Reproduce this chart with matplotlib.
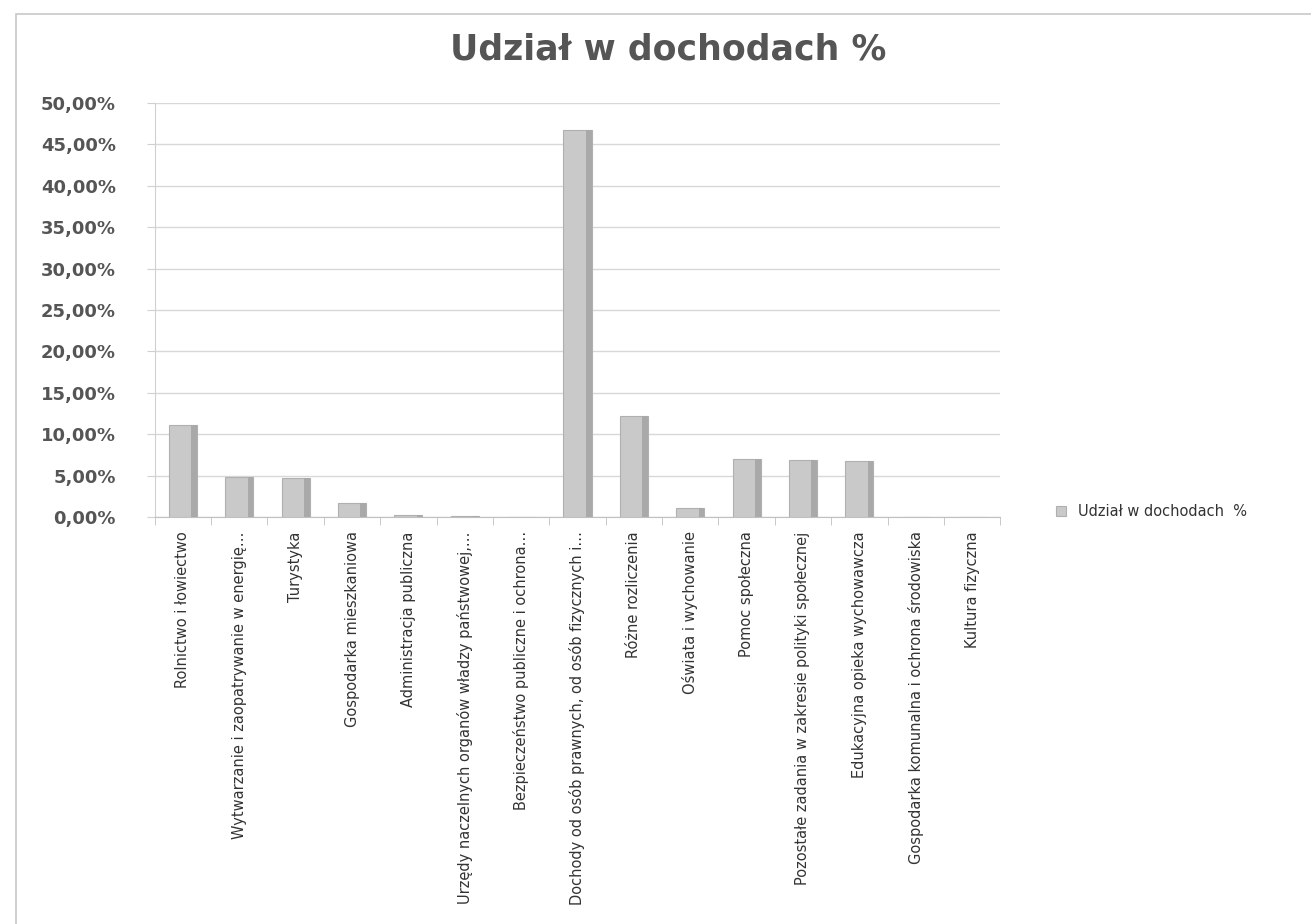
import matplotlib
matplotlib.use('Agg')
import matplotlib.pyplot as plt
from matplotlib.patches import Rectangle
from matplotlib.ticker import FuncFormatter
import numpy as np

# Categories and values (share of income, %)
categories = [
    'Rolnictwo i łowiectwo',
    'Wytwarzanie i zaopatrywanie w energię…',
    'Turystyka',
    'Gospodarka mieszkaniowa',
    'Administracja publiczna',
    'Urzędy naczelnych organów władzy państwowej,…',
    'Bezpieczeństwo publiczne i ochrona…',
    'Dochody od osób prawnych, od osób fizycznych i…',
    'Różne rozliczenia',
    'Oświata i wychowanie',
    'Pomoc społeczna',
    'Pozostałe zadania w zakresie polityki społecznej',
    'Edukacyjna opieka wychowawcza',
    'Gospodarka komunalna i ochrona środowiska',
    'Kultura fizyczna',
]
values = [11.2, 4.9, 4.8, 1.8, 0.3, 0.2, 0.1, 46.7, 12.2, 1.1, 7.1, 6.9, 6.8, 0.05, 0.05]
y_ticks = [0, 5, 10, 15, 20, 25, 30, 35, 40, 45, 50]

fig = plt.figure(figsize=(13.11, 9.24), dpi=100)
fig.patch.set_facecolor('white')

# light border of the chart area
fig.add_artist(Rectangle((0.012, -0.01), 0.99, 0.995, transform=fig.transFigure,
                         fill=False, edgecolor='#c8c8c8', linewidth=1.2))

ax = fig.add_axes([0.118, 0.44, 0.645, 0.449])
x = np.arange(len(categories))

bars = ax.bar(x, values, width=0.5, color='#c9c9c9', edgecolor='#b0b0b0',
              linewidth=0.8, zorder=3, label='Udział w dochodach  %')
# darker side face to hint at the 3D look
ax.bar(x + 0.2, values, width=0.1, color='#a9a9a9', edgecolor='none', zorder=4)

ax.set_xlim(-0.5, len(categories) - 0.5)
ax.set_ylim(0, 50)
ax.set_yticks(y_ticks)
ax.yaxis.set_major_formatter(FuncFormatter(lambda v, p: f'{v:.2f}%'.replace('.', ',')))
ax.grid(axis='y', color='#d8d8d8', linewidth=1, zorder=0)

for s in ['top', 'right']:
    ax.spines[s].set_visible(False)
ax.spines['left'].set_color('#d0d0d0')
ax.spines['bottom'].set_color('#c0c0c0')

ax.set_xticks(x)
ax.set_xticklabels(categories, rotation=90, fontsize=10.5, color='#333333')
ax.tick_params(axis='x', length=0, pad=10)
ax.set_xticks(np.arange(-0.5, len(categories)), minor=True)
ax.tick_params(axis='x', which='minor', length=6, color='#c0c0c0')
ax.tick_params(axis='y', length=6, color='#d0d0d0', labelsize=13, labelcolor='#555555', pad=22)
for lbl in ax.get_yticklabels():
    lbl.set_fontweight('bold')

fig.suptitle('Udział w dochodach %', x=0.51, y=0.965, fontsize=25,
             fontweight='bold', color='#555555')

ax.legend(loc='center left', bbox_to_anchor=(1.05, 0.015), frameon=False,
          fontsize=10.5, handlelength=0.7, handleheight=0.7, handles=[bars],
          labelcolor='#333333')

plt.savefig('out.png', dpi=100)
